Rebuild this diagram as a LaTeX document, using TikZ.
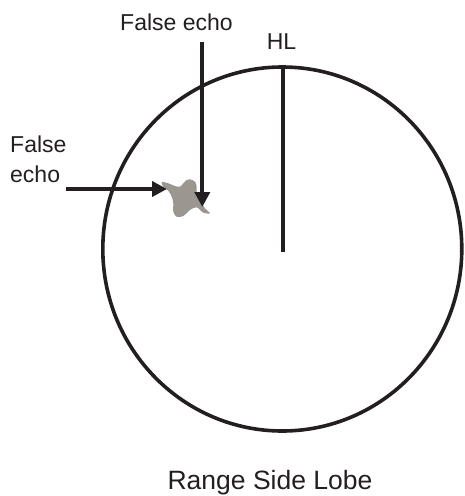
\documentclass[tikz,border=0pt]{standalone}
\usepackage{fontspec}
\setmainfont{Liberation Sans}
\usetikzlibrary{arrows.meta}
\definecolor{ink}{RGB}{35,31,32}
\definecolor{echogrey}{RGB}{155,150,144}
\begin{document}
\begin{tikzpicture}[x=1pt,y=-1pt,
  lbl/.style={inner sep=0pt,font=\fontsize{23}{30}\selectfont,text=ink},
  scopeline/.style={draw=ink,line width=3.6pt},
  pointer/.style={draw=ink,line width=4pt,-{Triangle[width=15pt,length=15pt]}}]
\useasboundingbox (0,0) rectangle (464,496);
% radar scope
\draw[scopeline] (282.3,249) ellipse [x radius=179.5, y radius=182];
\coordinate (hltop) at (282.7,67);
\coordinate (hlend) at (282.7,251.5);
\draw[draw=ink,line width=4pt] (hltop) -- (hlend);
% false echo blob
\fill[echogrey] plot[smooth cycle,tension=0.55] coordinates {
 (161.7,182) (168.3,183.3) (175,186) (180,186.7) (183.3,183.3) (186.7,180)
 (190,179.3) (195,181.7) (196.7,186.7) (196.7,191.7) (200,200) (205,208.3)
 (210,213.3) (203.3,212.7) (196.7,207.3) (190,210) (183.3,216) (176.7,216.7)
 (173.3,211.7) (173.3,203.3) (171.7,196.7) (168.3,190.7) (163.3,186.7)};
% labels
\node[lbl,anchor=base] (fetop) at (176.5,30) {False echo};
\node[lbl,anchor=base] (hl) at (281.5,49) {HL};
\node[lbl,anchor=base west,align=left] (feleft) at (10,182) {False\\echo};
\node[lbl,anchor=base,font=\fontsize{26.5}{30}\selectfont] (title) at (270,489.8) {Range Side Lobe};
% arrows
\coordinate (v0) at (202.3,42);
\coordinate (v1) at (202.3,207);
\coordinate (h0) at (66,189);
\coordinate (h1) at (167,189);
\draw[pointer] (v0) -- (v1);
\draw[pointer] (h0) -- (h1);
\end{tikzpicture}
\end{document}
